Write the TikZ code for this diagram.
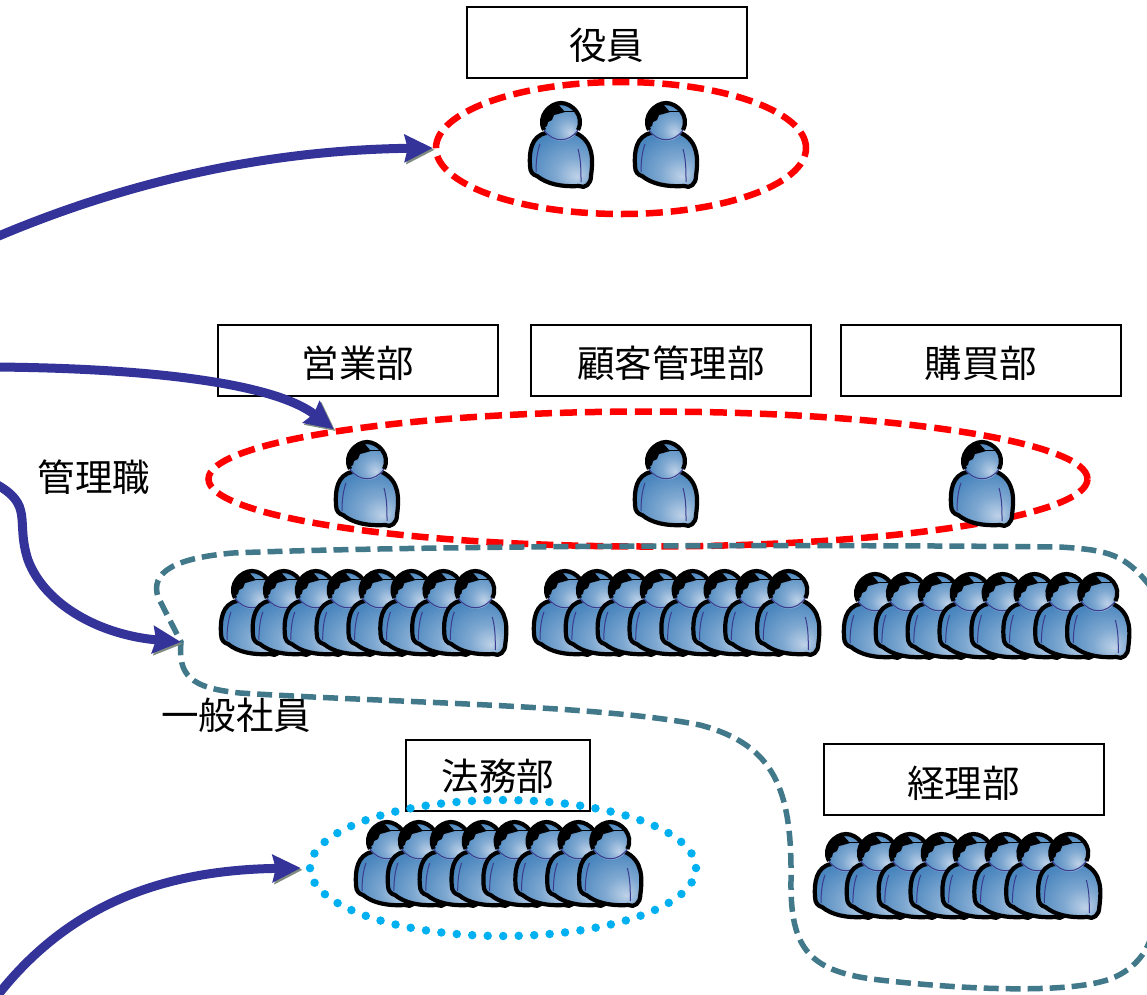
\documentclass[tikz,border=0pt]{standalone}
\usepackage{fontspec}
\usetikzlibrary{arrows.meta,shapes.geometric,shadings}
\newfontfamily\jpfont{Noto Sans CJK JP}
\newcommand{\droptext}[2]{\raisebox{-#1}[\height][\depth]{#2}}
\definecolor{bodydark}{HTML}{4A86BE}
\definecolor{bodylight}{HTML}{BFD2E8}
\definecolor{arrowblue}{HTML}{333399}
\definecolor{arrowshadow}{HTML}{7F8C7F}
\definecolor{staffteal}{HTML}{41788A}
\definecolor{legalblue}{HTML}{00B0F0}
\definecolor{seamline}{HTML}{3B3B8F}
\pgfdeclareradialshading{personshade}{\pgfpoint{12bp}{-14bp}}
  {color(0bp)=(bodylight); color(14bp)=(bodydark!55!bodylight); color(32bp)=(bodydark); color(60bp)=(bodydark)}
\begin{document}
\begin{tikzpicture}
  [
    x=1pt, y=-1pt,
    deptbox/.style =
      {draw, line width=2pt, minimum width=280pt, minimum height=71pt, inner sep=0pt, font=\jpfont\fontsize{37.5}{40}\selectfont},
    label/.style =
      {inner sep=0pt, font=\jpfont\fontsize{37.5}{40}\selectfont},
    rank/.style =
      {draw=red, line width=6.5pt, ellipse, inner sep=0pt, dash pattern=on 17pt off 8pt},
    legal/.style =
      {draw=legalblue, line width=8.5pt, ellipse, inner sep=0pt, line cap=round, dash pattern=on 0pt off 15.5pt},
    sarrow/.style =
      {draw=arrowblue, line width=9pt, -{Stealth[length=28pt,width=27pt,inset=3pt]},
       preaction={draw=arrowshadow, transform canvas={shift={(1.8pt,-1.8pt)}}}},
    person/.pic = {
      \draw [line width=4.2pt, line join=round, shading=personshade]
        (-15,11) .. controls (-30,14) and (-32,30) .. (-31,44)
        .. controls (-31,50) and (-28,53) .. (-24,54)
        .. controls (-14,62) and (0,65) .. (18,64)
        .. controls (24,67) and (30,62) .. (30,54)
        .. controls (32,38) and (33,20) .. (15,11) -- cycle;
      \draw [seamline, line width=1pt] (-21,22) .. controls (-24,30) and (-25,40) .. (-25,50);
      \draw [seamline, line width=1pt] (17,27) .. controls (20,38) and (20,48) .. (20,60);
      \shade [shading=personshade] (0,0) circle [radius=19];
      \fill (-18,6) .. controls (-22,-6) and (-14,-18) .. (-4,-19) -- (4,-10)
        -- (-3,-8) -- (-7,-7) -- (-9,-2) -- (-13,0) -- (-14,4) -- cycle;
      \draw [line width=.7pt] (2,-11) -- (15,-11);
      \draw [line width=4.2pt]
        (-17,8) .. controls (-24,-6) and (-11,-19) .. (0,-19)
        .. controls (11,-19) and (24,-6) .. (17,8);
      \draw [seamline, line width=1pt] (-17,8) .. controls (-8,21) and (8,21) .. (17,8);
    },
    staffrow/.pic = {
      \foreach \n in {0,...,7}
        \pic at (31.9*\n,0) {person};
    }
  ]
  \useasboundingbox (0,0) rectangle (1147,994);

  \node [deptbox] at (606.5, 42.5) (exec) {\droptext{3pt}{役員}};
  \node [deptbox] at (358, 360.5) (sales) {\droptext{3pt}{営業部}};
  \node [deptbox] at (671, 360.5) (client) {\droptext{3pt}{顧客管理部}};
  \node [deptbox] at (981, 360.5) (purchase) {\droptext{3pt}{購買部}};
  \node [deptbox, minimum width=184pt] at (498, 775) (law) {\droptext{1pt}{法務部}};
  \node [deptbox] at (963.5, 779) (account) {\droptext{4pt}{経理部}};

  \node [label] at (94, 477) (mgrlabel) {管理職};
  \node [label] at (236, 715) (stafflabel) {一般社員};

  \node [rank, minimum width=370pt, minimum height=132pt] at (621, 148) (execring) {};
  \node [rank, minimum width=879pt, minimum height=135pt] at (648, 479) (mgrring) {};

  % staff boundary
  \coordinate (staffhook) at (181, 642);
  \draw [staffteal, line width=5.5pt, dash pattern=on 15pt off 7pt]
    (1150, 586) .. controls (1125, 555) and (1110, 550) .. (1060, 547)
    .. controls (800, 544) and (400, 546) .. (233, 553)
    .. controls (175, 558) and (150, 572) .. (158, 597)
    -- (staffhook)
    .. controls (178, 675) and (190, 688) .. (240, 693)
    .. controls (400, 703) and (600, 705) .. (700, 725)
    .. controls (775, 745) and (792, 790) .. (791, 880)
    .. controls (790, 950) and (810, 972) .. (880, 980)
    .. controls (950, 988) and (1050, 994) .. (1100, 982)
    .. controls (1130, 975) and (1145, 955) .. (1150, 940);

  \pic at (561, 122) {person};
  \pic at (666, 122) {person};
  \pic at (367, 461) {person};
  \pic at (666, 461) {person};
  \pic at (982, 461) {person};

  \pic at (252, 590) {staffrow};
  \pic at (565, 590) {staffrow};
  \pic at (875, 593) {staffrow};
  \pic at (387, 841) {staffrow};
  \pic at (846, 853) {staffrow};

  \node [legal, minimum width=386pt, minimum height=136pt] at (503, 868) (lawring) {};

  \coordinate (execfrom) at (-6, 238);
  \coordinate (salesfrom) at (-6, 367);
  \coordinate (stafffrom) at (-6, 483);
  \coordinate (lawfrom) at (-6, 1000);

  \draw [sarrow] (execfrom) .. controls (130, 180) and (270, 150) .. (execring.west);
  \draw [sarrow] (salesfrom) .. controls (130, 368) and (270, 380) .. (mgrring.171);
  \draw [sarrow] (stafffrom) .. controls (35, 505) and (15, 520) .. (28, 560)
    .. controls (45, 605) and (100, 635) .. (staffhook);
  \draw [sarrow] (lawfrom) .. controls (70, 900) and (170, 870) .. ([xshift=-5pt]lawring.west);
\end{tikzpicture}
\end{document}
